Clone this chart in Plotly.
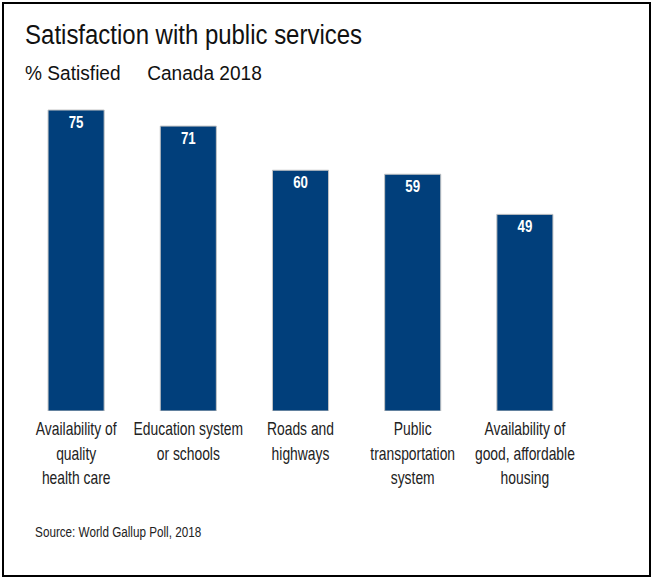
import plotly.graph_objects as go

categories = ["Availability of<br>quality<br>health care",
              "Education system<br>or schools",
              "Roads and<br>highways",
              "Public<br>transportation<br>system",
              "Availability of<br>good, affordable<br>housing"]
values = [75, 71, 60, 59, 49]

W, H = 653, 578
L, R, T, B = 20, 72, 100, 167
pw, ph = W - L - R, H - T - B

def px(x):
    return (x - L) / pw

def py(y):
    return (H - B - y) / ph

sans = "Liberation Sans, Arial, sans-serif"

fig = go.Figure(go.Bar(
    x=categories, y=values,
    marker=dict(color="#013f7b", line=dict(color="#c4c4c4", width=1)),
    text=values, textposition="inside", insidetextanchor="end",
    textfont=dict(color="white", size=17, family=sans, weight="bold"),
    textangle=0,
))

fig.update_layout(
    width=W, height=H,
    margin=dict(l=L, r=R, t=T, b=B),
    paper_bgcolor="white", plot_bgcolor="white",
    bargap=0.5, showlegend=False,
    xaxis=dict(showline=False, showgrid=False, ticks="", zeroline=False, tickangle=0,
               ticklabelstandoff=4,
               tickfont=dict(family=sans, size=19, color="#222")),
    yaxis=dict(range=[0, ph / 4.013], visible=False, showgrid=False),
    annotations=[
        dict(text="Satisfaction with public services", xref="paper", yref="paper",
             x=px(23), y=py(35.5), xanchor="left", yanchor="middle", showarrow=False,
             font=dict(family=sans, size=27, color="#111")),
        dict(text="% Satisfied\u00a0\u00a0\u00a0\u00a0\u00a0Canada 2018", xref="paper", yref="paper",
             x=px(23), y=py(72.5), xanchor="left", yanchor="middle", showarrow=False,
             font=dict(family=sans, size=21, color="#111")),
        dict(text="Source: World Gallup Poll, 2018", xref="paper", yref="paper",
             x=px(33), y=py(531), xanchor="left", yanchor="middle", showarrow=False,
             font=dict(family=sans, size=15, color="#222")),
    ],
    shapes=[dict(type="rect", xref="paper", yref="paper",
                 x0=px(3), x1=px(650), y0=py(576), y1=py(3),
                 line=dict(color="black", width=2), fillcolor="rgba(0,0,0,0)")],
)

# Narrow the text horizontally (the reference uses condensed lettering)
post = """
document.body.style.margin='0';document.body.style.padding='0';
(function(){
  var gd=document.querySelector('.plotly-graph-div');
  function sq(t,s,left){
    var tr=t.getAttribute('transform')||'';
    if(t.dataset.sq && tr===t.dataset.sq) return;
    var b=t.getBBox();
    var cx=left? b.x : b.x+b.width/2;
    var n=tr+' translate('+cx+',0) scale('+s+',1) translate('+(-cx)+',0)';
    t.setAttribute('transform',n); t.dataset.sq=n;
  }
  function run(){
    gd.querySelectorAll('.xtick text').forEach(function(t){sq(t,0.73,false);});
    gd.querySelectorAll('text.bartext').forEach(function(t){sq(t,0.78,false);});
    var sc=[0.888,0.91,0.78];
    gd.querySelectorAll('g.annotation').forEach(function(g,i){
      var t=g.querySelector('text.annotation-text'); if(t) sq(t,sc[i]||1,true);
    });
  }
  run(); setTimeout(run,50);
  if(gd.on) gd.on('plotly_afterplot',run);
})();
"""

fig.write_html("out.html", post_script=post, config={"displayModeBar": False})
